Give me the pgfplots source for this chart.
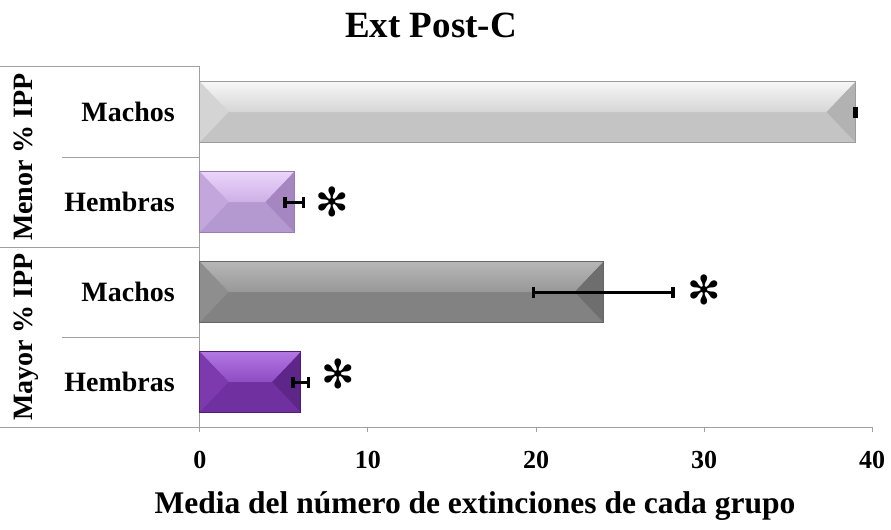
\documentclass[border=0pt]{standalone}
\usepackage{pgfplots}
\pgfplotsset{compat=1.18}
\usepackage{fontspec}
\setmainfont{Liberation Serif}
\newfontfamily\symfont{DejaVu Sans}

\definecolor{axgray}{HTML}{A0A0A0}
\definecolor{gTopA}{HTML}{F6F6F6}\definecolor{gTopB}{HTML}{D6D6D6}\definecolor{gMain}{HTML}{C4C4C4}
\definecolor{gLeft}{HTML}{D4D4D4}\definecolor{gRight}{HTML}{B2B2B2}\definecolor{gEdge}{HTML}{9C9C9C}
\definecolor{pTopA}{HTML}{EAD4FA}\definecolor{pTopB}{HTML}{CDB0E6}\definecolor{pMain}{HTML}{B498D0}
\definecolor{pLeft}{HTML}{C2A6DC}\definecolor{pRight}{HTML}{A586C0}\definecolor{pEdge}{HTML}{9A7CB4}
\definecolor{dTopA}{HTML}{B6B6B6}\definecolor{dTopB}{HTML}{989898}\definecolor{dMain}{HTML}{828282}
\definecolor{dLeft}{HTML}{8E8E8E}\definecolor{dRight}{HTML}{6E6E6E}\definecolor{dEdge}{HTML}{666666}
\definecolor{vTopA}{HTML}{B277E2}\definecolor{vTopB}{HTML}{8E4CC4}\definecolor{vMain}{HTML}{7030A0}
\definecolor{vLeft}{HTML}{7C3AAE}\definecolor{vRight}{HTML}{5E2688}\definecolor{vEdge}{HTML}{4E1E72}

\begin{document}
\begin{tikzpicture}
\begin{axis}[
  scale only axis, width=672bp, height=360bp,
  xmin=0, xmax=40, ymin=-0.5, ymax=3.5,
  axis lines*=left, clip=false,
  axis line style={axgray, line width=1bp},
  xtick={0,10,20,30,40}, ytick=\empty,
  tick align=outside, major tick length=5bp,
  xtick style={axgray, line width=1bp},
  /pgf/number format/assume math mode=true,
  xticklabel style={font=\fontsize{26bp}{28bp}\selectfont\bfseries, anchor=base, yshift=-36bp},
]
% base bars
\addplot[xbar, bar width=0.667, bar shift=0pt, fill=gMain, draw=none] coordinates {(39,3)};
\addplot[xbar, bar width=0.667, bar shift=0pt, fill=pMain, draw=none] coordinates {(5.6,2)};
\addplot[xbar, bar width=0.667, bar shift=0pt, fill=dMain, draw=none] coordinates {(24,1)};
\addplot[xbar, bar width=0.667, bar shift=0pt, fill=vMain, draw=none] coordinates {(6,0)};
% bevels: top, left, right faces
\addplot[draw=none, top color=gTopA, bottom color=gTopB, no markers] coordinates {(0,3.333) (39,3.333) (37.3,3) (1.7,3)};
\addplot[draw=none, fill=gLeft, no markers] coordinates {(0,3.333) (1.7,3) (0,2.667)};
\addplot[draw=none, fill=gRight, no markers] coordinates {(39,3.333) (39,2.667) (37.3,3)};
\addplot[draw=none, top color=pTopA, bottom color=pTopB, no markers] coordinates {(0,2.333) (5.6,2.333) (3.9,2) (1.7,2)};
\addplot[draw=none, fill=pLeft, no markers] coordinates {(0,2.333) (1.7,2) (0,1.667)};
\addplot[draw=none, fill=pRight, no markers] coordinates {(5.6,2.333) (5.6,1.667) (3.9,2)};
\addplot[draw=none, top color=dTopA, bottom color=dTopB, no markers] coordinates {(0,1.333) (24,1.333) (22.3,1) (1.7,1)};
\addplot[draw=none, fill=dLeft, no markers] coordinates {(0,1.333) (1.7,1) (0,0.667)};
\addplot[draw=none, fill=dRight, no markers] coordinates {(24,1.333) (24,0.667) (22.3,1)};
\addplot[draw=none, top color=vTopA, bottom color=vTopB, no markers] coordinates {(0,0.333) (6,0.333) (4.3,0) (1.7,0)};
\addplot[draw=none, fill=vLeft, no markers] coordinates {(0,0.333) (1.7,0) (0,-0.333)};
\addplot[draw=none, fill=vRight, no markers] coordinates {(6,0.333) (6,-0.333) (4.3,0)};
% outlines
\addplot[xbar, bar width=0.667, bar shift=0pt, fill=none, draw=gEdge, line width=1bp] coordinates {(39,3)};
\addplot[xbar, bar width=0.667, bar shift=0pt, fill=none, draw=pEdge, line width=1bp] coordinates {(5.6,2)};
\addplot[xbar, bar width=0.667, bar shift=0pt, fill=none, draw=dEdge, line width=1bp] coordinates {(24,1)};
\addplot[xbar, bar width=0.667, bar shift=0pt, fill=none, draw=vEdge, line width=1bp] coordinates {(6,0)};
% error bars (mean - error, mean + error)
\pgfplotsset{errstyle/.style={black, line width=3bp, mark=|, mark size=5.5bp, mark options={black, line width=3.5bp}}}
\addplot[errstyle] coordinates {(38.95,3) (39.05,3)};
\addplot[errstyle] coordinates {(5.05,2) (6.15,2)};
\addplot[errstyle] coordinates {(19.85,1) (28.15,1)};
\addplot[errstyle] coordinates {(5.55,0) (6.45,0)};
% asterisks
\node[font=\symfont\fontsize{40bp}{40bp}\selectfont] at (axis cs:7.9,2) {✻};
\node[font=\symfont\fontsize{40bp}{40bp}\selectfont] at (axis cs:30.0,1.02) {✻};
\node[font=\symfont\fontsize{40bp}{40bp}\selectfont] at (axis cs:8.2,0.09) {✻};
% category table on the left
\draw[axgray, line width=1bp] ([xshift=-200bp]axis cs:0,3.5) -- (axis cs:0,3.5);
\draw[axgray, line width=1bp] ([xshift=-138bp]axis cs:0,2.5) -- (axis cs:0,2.5);
\draw[axgray, line width=1bp] ([xshift=-200bp]axis cs:0,1.5) -- (axis cs:0,1.5);
\draw[axgray, line width=1bp] ([xshift=-138bp]axis cs:0,0.5) -- (axis cs:0,0.5);
\draw[axgray, line width=1bp] ([xshift=-200bp]axis cs:0,-0.5) -- (axis cs:0,-0.5);
\tikzset{cat/.style={anchor=east, font=\fontsize{28bp}{32bp}\selectfont\bfseries, inner sep=0pt}}
\node[cat] at ([xshift=-25bp]axis cs:0,3) {Machos};
\node[cat] at ([xshift=-25bp]axis cs:0,2) {Hembras};
\node[cat] at ([xshift=-25bp]axis cs:0,1) {Machos};
\node[cat] at ([xshift=-25bp]axis cs:0,0) {Hembras};
\tikzset{grp/.style={anchor=base, rotate=90, font=\fontsize{28bp}{32bp}\selectfont\bfseries, inner sep=0pt}}
\node[grp] at ([xshift=-167bp]axis cs:0,2.5) {Menor \% IPP};
\node[grp] at ([xshift=-167bp]axis cs:0,0.5) {Mayor \% IPP};
% title and axis label
\node[anchor=base, font=\fontsize{37bp}{40bp}\selectfont\bfseries, inner sep=0pt] at ([xshift=231bp,yshift=30bp]rel axis cs:0,1) {Ext Post-C};
\node[anchor=base, font=\fontsize{31.5bp}{34bp}\selectfont\bfseries, inner sep=0pt] at ([xshift=275bp,yshift=-86bp]rel axis cs:0,0) {Media del número de extinciones de cada grupo};
\coordinate (sw) at (rel axis cs:0,0);
\end{axis}
\pgfresetboundingbox
\path[use as bounding box] (sw) ++(-200bp,-103bp) rectangle ++(891bp,530bp);
\end{tikzpicture}
\end{document}
